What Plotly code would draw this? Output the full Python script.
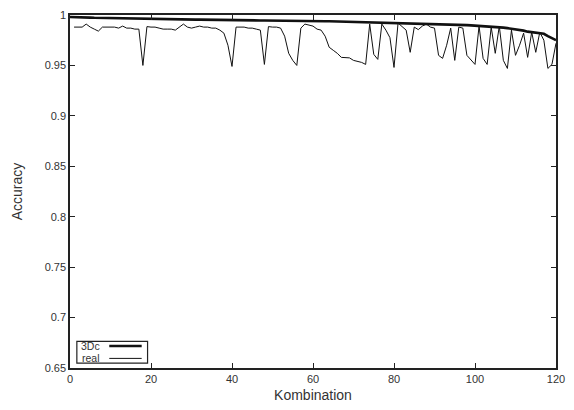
import plotly.graph_objects as go

# Combination index for each series
comb_3dc = list(range(0, 121))
comb_real = list(range(1, 121))

# Accuracy of the 3Dc estimate (sorted, descending)
acc_3dc = [
    0.9980, 0.9980, 0.9978, 0.9976, 0.9975, 0.9974, 0.9972, 0.9971, 0.9970, 0.9969,
    0.9968, 0.9967, 0.9966, 0.9965, 0.9964, 0.9963, 0.9962, 0.9961, 0.9960, 0.9960,
    0.9959, 0.9958, 0.9958, 0.9957, 0.9957, 0.9956, 0.9956, 0.9956, 0.9955, 0.9955,
    0.9955, 0.9954, 0.9954, 0.9953, 0.9953, 0.9952, 0.9952, 0.9951, 0.9951, 0.9950,
    0.9950, 0.9949, 0.9949, 0.9948, 0.9948, 0.9947, 0.9947, 0.9946, 0.9946, 0.9945,
    0.9945, 0.9944, 0.9944, 0.9943, 0.9943, 0.9942, 0.9942, 0.9941, 0.9941, 0.9940,
    0.9940, 0.9939, 0.9939, 0.9938, 0.9938, 0.9937, 0.9936, 0.9936, 0.9935, 0.9934,
    0.9934, 0.9933, 0.9932, 0.9932, 0.9931, 0.9930, 0.9929, 0.9928, 0.9927, 0.9926,
    0.9925, 0.9924, 0.9923, 0.9922, 0.9921, 0.9920, 0.9918, 0.9917, 0.9915, 0.9914,
    0.9912, 0.9911, 0.9910, 0.9908, 0.9907, 0.9906, 0.9905, 0.9902, 0.9900, 0.9897,
    0.9895, 0.9892, 0.9890, 0.9887, 0.9885, 0.9882, 0.9880, 0.9875, 0.9870, 0.9865,
    0.9860, 0.9856, 0.9845, 0.9835, 0.9830, 0.9822, 0.9818, 0.9814, 0.9790, 0.9770,
    0.9750,
]

# Measured accuracy on real data
acc_real = [
    0.988, 0.988, 0.988, 0.991, 0.988, 0.986, 0.984, 0.988, 0.988, 0.988,
    0.988, 0.987, 0.989, 0.987, 0.987, 0.986, 0.986, 0.950, 0.9885, 0.988,
    0.988, 0.987, 0.986, 0.986, 0.986, 0.985, 0.988, 0.991, 0.988, 0.987,
    0.988, 0.989, 0.988, 0.988, 0.987, 0.987, 0.985, 0.982, 0.970, 0.949,
    0.988, 0.988, 0.988, 0.987, 0.987, 0.986, 0.985, 0.951, 0.9885, 0.988,
    0.988, 0.987, 0.979, 0.962, 0.955, 0.950, 0.987, 0.991, 0.990, 0.989,
    0.986, 0.985, 0.979, 0.968, 0.965, 0.962, 0.958, 0.9575, 0.9575, 0.955,
    0.954, 0.953, 0.951, 0.991, 0.961, 0.956, 0.991, 0.985, 0.9775, 0.948,
    0.992, 0.988, 0.985, 0.963, 0.988, 0.9855, 0.989, 0.991, 0.988, 0.987,
    0.960, 0.957, 0.970, 0.987, 0.955, 0.988, 0.987, 0.960, 0.955, 0.951,
    0.989, 0.957, 0.951, 0.988, 0.962, 0.989, 0.955, 0.947, 0.985, 0.960,
    0.970, 0.982, 0.958, 0.983, 0.963, 0.983, 0.975, 0.947, 0.951, 0.972,
]

x_ticks = [0, 20, 40, 60, 80, 100, 120]
y_ticks = [0.65, 0.7, 0.75, 0.8, 0.85, 0.9, 0.95, 1]
y_tick_text = ["0.65", "0.7", "0.75", "0.8", "0.85", "0.9", "0.95", "1"]

FONT = "Liberation Sans, Arial, Helvetica, sans-serif"
INK = "#333333"

fig = go.Figure()
fig.add_trace(go.Scatter(x=comb_3dc, y=acc_3dc, mode="lines", name="3Dc",
                         line=dict(color="#111111", width=2.6)))
fig.add_trace(go.Scatter(x=comb_real, y=acc_real, mode="lines", name="real",
                         line=dict(color="#111111", width=1)))

axis_common = dict(
    showgrid=False, zeroline=False, showline=True, linecolor="#222222", linewidth=1.5,
    mirror="allticks", ticks="inside", ticklen=5, tickcolor="#222222", tickwidth=1,
    tickfont=dict(family=FONT, size=11, color=INK),
)
fig.update_xaxes(range=[0, 120], tickvals=x_ticks,
                 title=dict(text="Kombination", font=dict(family=FONT, size=14, color=INK), standoff=6),
                 **axis_common)
fig.update_yaxes(range=[0.65, 1], tickvals=y_ticks, ticktext=y_tick_text,
                 title=dict(text="Accuracy", font=dict(family=FONT, size=14, color=INK), standoff=19),
                 **axis_common)

# Key box in the lower-left corner (label, then line sample)
fig.add_shape(type="rect", xref="paper", yref="paper", x0=0.0141, x1=0.1596, y0=0.014, y1=0.0756,
              line=dict(color="#222222", width=1.2), fillcolor="white")
key = [("3Dc", 2.6, 0.0625), ("real", 1, 0.0272)]
for label, w, yy in key:
    fig.add_annotation(text=label, xref="paper", yref="paper", x=0.0667, y=yy,
                       xanchor="right", yanchor="middle", showarrow=False,
                       font=dict(family=FONT, size=10.5, color=INK))
    fig.add_shape(type="line", xref="paper", yref="paper", x0=0.0808, x1=0.1475, y0=yy, y1=yy,
                  line=dict(color="#111111", width=w))

fig.update_layout(
    width=574, height=410, showlegend=False,
    paper_bgcolor="white", plot_bgcolor="white",
    margin=dict(l=70, r=9, t=12, b=41, pad=0),
    font=dict(family=FONT, color=INK),
)
fig.write_html("out.html")
